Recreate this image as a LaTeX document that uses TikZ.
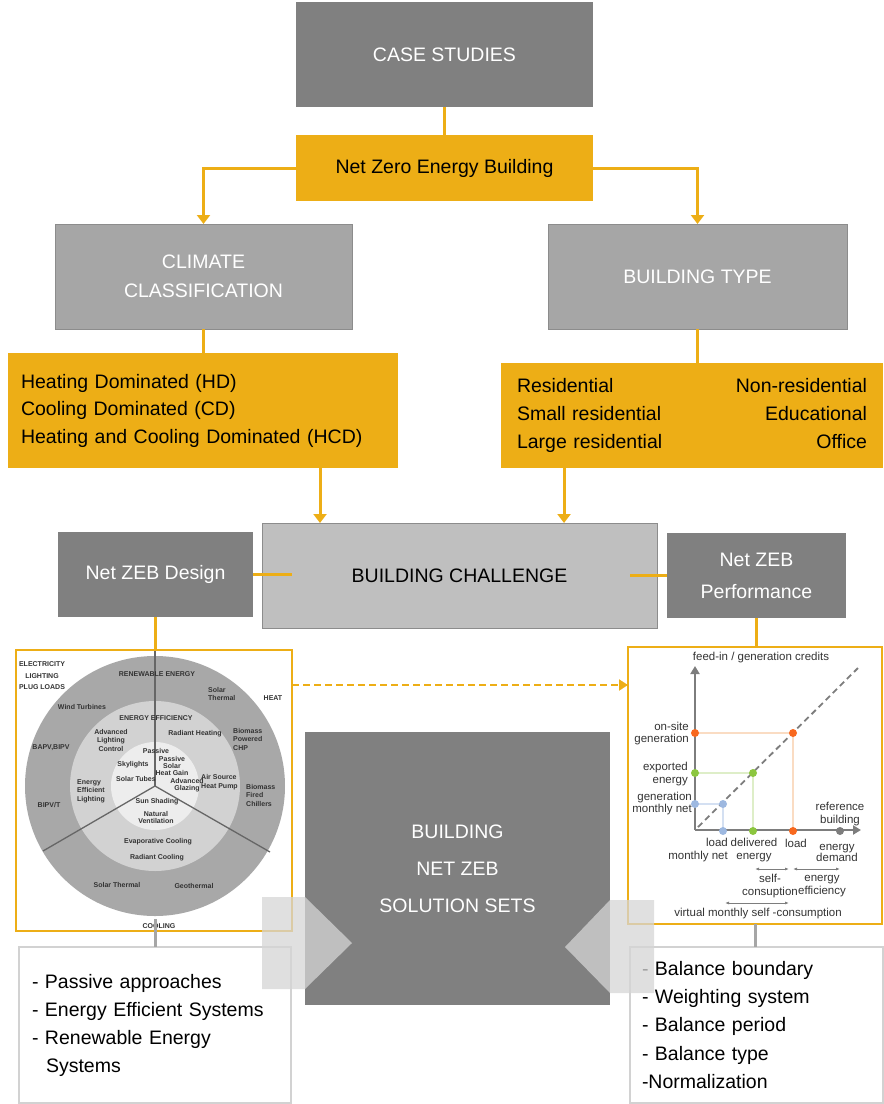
\documentclass[tikz,border=0pt]{standalone}
\usepackage{fontspec}
\setmainfont{Liberation Sans}
\usetikzlibrary{arrows.meta,calc}
\definecolor{zy}{RGB}{237,174,22}
\definecolor{dg}{RGB}{128,128,128}
\definecolor{mg}{RGB}{166,166,166}
\definecolor{lg}{RGB}{191,191,191}
\definecolor{bd}{RGB}{140,140,140}
\definecolor{ringA}{RGB}{168,168,168}
\definecolor{ringB}{RGB}{210,210,210}
\definecolor{ringC}{RGB}{237,237,237}
\definecolor{po}{RGB}{248,104,30}
\definecolor{pg}{RGB}{140,198,63}
\definecolor{pb}{RGB}{157,184,224}
\definecolor{lpo}{RGB}{250,220,195}
\definecolor{lpg}{RGB}{222,238,200}
\definecolor{lpb}{RGB}{212,224,242}
\definecolor{ax}{RGB}{125,125,125}
\definecolor{tgray}{RGB}{51,51,51}
\definecolor{arrfill}{RGB}{213,213,213}
\newcommand\bigtxt{\fontsize{19.5}{28}\selectfont}
\newcommand\charttxt{\fontsize{11.5}{12.5}\selectfont}
\newcommand\circtxt{\fontsize{7}{8.5}\selectfont\bfseries}
\begin{document}
\begin{tikzpicture}[x=1pt,y=-1pt,
  box/.style={inner sep=0pt, outer sep=0pt, align=center, font=\bigtxt},
  dbox/.style={box, fill=dg, text=white},
  mbox/.style={box, fill=mg, draw=bd, line width=1pt, text=white},
  cbox/.style={box, fill=lg, draw=bd, line width=1pt, text=black},
  ybox/.style={box, fill=zy, text=black},
  wbox/.style={box, draw=ringB, line width=1.5pt, fill=white, text=black},
  frame/.style={draw=zy, line width=1.8pt, inner sep=0pt, outer sep=0pt},
  yline/.style={draw=zy, line width=3pt},
  yarrow/.style={yline, -{Triangle[width=13pt,length=9pt]}},
  gline/.style={draw=black!35, line width=3pt},
  ctext/.style={font=\circtxt, inner sep=0pt, text=black!80},
  chtext/.style={font=\charttxt, inner sep=0pt, text=tgray},
  dot/.style={circle, inner sep=0pt, minimum size=8pt},
  dbl/.style={draw=ax, line width=0.8pt, {Latex[length=4pt,width=3pt]}-{Latex[length=4pt,width=3pt]}}
]
\useasboundingbox (0,0) rectangle (884,1104);

% ---- main boxes ----
\node[dbox, minimum width=297pt, minimum height=105pt] (cs) at (444.5,54.5) {CASE STUDIES};
\node[ybox, minimum width=297pt, minimum height=66pt] (nz) at (444.5,168) {Net Zero Energy Building};
\node[mbox, minimum width=297pt, minimum height=105pt, font=\fontsize{19.5}{29}\selectfont] (cl) at (203.5,276.5) {CLIMATE\\CLASSIFICATION};
\node[mbox, minimum width=299pt, minimum height=105pt] (bt) at (697.5,276.5) {BUILDING TYPE};
\node[ybox, minimum width=390pt, minimum height=115pt, text width=364pt, align=left, font=\fontsize{19.5}{27.5}\selectfont] (ly) at (203,410.5)
  {Heating Dominated (HD)\\Cooling Dominated (CD)\\Heating and Cooling Dominated (HCD)};
\node[ybox, minimum width=382pt, minimum height=105pt, text width=350pt, align=left] (ry) at (692,415.5)
  {\makebox[350pt][s]{Residential\hfill Non-residential}\\\makebox[350pt][s]{Small residential\hfill Educational}\\\makebox[350pt][s]{Large residential\hfill Office}};
\node[cbox, minimum width=395pt, minimum height=105pt] (ch) at (459.5,575.5) {BUILDING CHALLENGE};
\node[dbox, minimum width=195pt, minimum height=85pt] (de) at (155.5,574.5) {Net ZEB Design};
\node[dbox, minimum width=179pt, minimum height=85pt, font=\fontsize{19.5}{32}\selectfont] (pe) at (756.5,575.5) {Net ZEB\\Performance};
\node[dbox, minimum width=305pt, minimum height=273pt, font=\fontsize{19.5}{37}\selectfont] (so) at (457.5,868.5) {BUILDING\\NET ZEB\\SOLUTION SETS};

% ---- frames ----
\node[frame, minimum width=276pt, minimum height=281pt] (lf) at (154,790.5) {};
\node[frame, minimum width=254pt, minimum height=277pt] (rf) at (755,785.5) {};

% ---- bottom text boxes ----
\node[wbox, minimum width=272pt, minimum height=156pt, text width=246pt, align=left] (lb) at (155,1025)
  {- Passive approaches\\- Energy Efficient Systems\\- Renewable Energy\\\hspace*{14pt}Systems};
\node[wbox, minimum width=253pt, minimum height=156pt, text width=229pt, align=left, font=\fontsize{19.5}{28.25}\selectfont] (rb) at (756.5,1025)
  {- Balance boundary\\- Weighting system\\- Balance period\\- Balance type\\-Normalization};

% ---- circle diagram ----
\coordinate (cc) at (155,786);
\fill[ringA] (cc) circle[radius=130pt];
\fill[ringB] (cc) circle[radius=85pt];
\fill[ringC] (cc) circle[radius=44pt];
\draw[black!60, line width=1.3pt] (cc) -- (155,651);
\draw[black!60, line width=1.3pt] (cc) -- (43,851);
\draw[black!60, line width=1.3pt] (cc) -- (270,852);
\node[ctext, align=center, font=\fontsize{7}{11.5}\selectfont\bfseries] (t1) at (42,676) {ELECTRICITY\\LIGHTING\\PLUG LOADS};
\node[ctext] (t2) at (157,674) {RENEWABLE ENERGY};
\node[ctext, align=left, anchor=west] (t3) at (208,694) {Solar\\Thermal};
\node[ctext] (t4) at (273,698) {HEAT};
\node[ctext] (t5) at (82,707) {Wind Turbines};
\node[ctext] (t6) at (156,718) {ENERGY EFFICIENCY};
\node[ctext, align=center] (t7) at (111,740) {Advanced\\Lighting\\Control};
\node[ctext] (t8) at (195,734) {Radiant Heating};
\node[ctext, align=left, anchor=west] (t9) at (233,739) {Biomass\\Powered\\CHP};
\node[ctext] (t10) at (51,748) {BAPV,BIPV};
\node[ctext] (t11) at (156,751) {Passive};
\node[ctext, align=center, font=\fontsize{7}{7}\selectfont\bfseries] (t12) at (172,766) {Passive\\Solar\\Heat Gain};
\node[ctext] (t13) at (133,765) {Skylights};
\node[ctext] (t14) at (136,779) {Solar Tubes};
\node[ctext, align=center, font=\fontsize{7}{7}\selectfont\bfseries] (t15) at (187,785) {Advanced\\Glazing};
\node[ctext, align=left, anchor=west] (t16) at (201,782) {Air Source\\Heat Pump};
\node[ctext, align=left, anchor=west] (t17) at (246,795) {Biomass\\Fired\\Chillers};
\node[ctext, align=left, anchor=west] (t18) at (77,791) {Energy\\Efficient\\Lighting};
\node[ctext] (t19) at (49,805) {BIPV/T};
\node[ctext] (t20) at (157,802) {Sun Shading};
\node[ctext, align=center, font=\fontsize{7}{7}\selectfont\bfseries] (t21) at (156,817) {Natural\\Ventilation};
\node[ctext] (t22) at (158,842) {Evaporative Cooling};
\node[ctext] (t23) at (157,858) {Radiant Cooling};
\node[ctext] (t24) at (117,885) {Solar Thermal};
\node[ctext] (t25) at (194,886) {Geothermal};
\node[ctext] (t26) at (159,926) {COOLING};

% ---- chart ----
\coordinate (o) at (695,830);
\coordinate (ytip) at (695,666);
\coordinate (xtip) at (861,830);
\draw[lpo, line width=1.5pt] (695,733) -- (793,733) -- (793,830);
\draw[lpg, line width=1.5pt] (695,773) -- (753,773) -- (753,830);
\draw[lpb, line width=1.5pt] (695,804) -- (723,804) -- (723,830);
\draw[ax, line width=1.8pt, dash pattern=on 6pt off 4pt] (698,827) -- (858,668);
\draw[ax, line width=2.5pt, -{Triangle[width=9pt,length=8pt]}] (o) -- (ytip);
\draw[ax, line width=2.5pt, -{Triangle[width=9pt,length=8pt]}] (o) -- (xtip);
\node[dot, fill=po] (p1) at (695,733) {};
\node[dot, fill=po] (p2) at (793,733) {};
\node[dot, fill=po] (p3) at (793,831) {};
\node[dot, fill=pg] (p4) at (695,773) {};
\node[dot, fill=pg] (p5) at (753,773) {};
\node[dot, fill=pg] (p6) at (753,831) {};
\node[dot, fill=pb] (p7) at (695,804) {};
\node[dot, fill=pb] (p8) at (723,804) {};
\node[dot, fill=pb] (p9) at (723,831) {};
\node[dot, fill=ax] (p10) at (840,831) {};
\node[chtext] (l1) at (761,658) {feed-in / generation credits};
\node[chtext, align=right, anchor=east] (l2) at (689,733.5) {on-site\\generation};
\node[chtext, align=right, anchor=east] (l3) at (688,774) {exported\\energy};
\node[chtext, align=right, anchor=east] (l4) at (692,803.5) {generation\\monthly net};
\node[chtext, align=center] (l5) at (840,814) {reference\\building};
\node[chtext, align=right, anchor=east] (l6) at (728,850) {load\\monthly net};
\node[chtext, align=center] (l7) at (754,850) {delivered\\energy};
\node[chtext] (l8) at (796,843) {load};
\node[chtext, align=center, font=\fontsize{11.5}{11}\selectfont] (l9) at (837,853) {energy\\demand};
\coordinate (a1) at (755,869);
\coordinate (a2) at (789,869);
\coordinate (a3) at (793,869);
\coordinate (a4) at (840,869);
\coordinate (a5) at (725,903);
\coordinate (a6) at (789,903);
\draw[dbl] (a1) -- (a2);
\draw[dbl] (a3) -- (a4);
\draw[dbl] (a5) -- (a6);
\node[chtext, align=center] (l10) at (770,886) {self-\\consuption};
\node[chtext, align=center] (l11) at (822,886) {energy\\efficiency};
\node[chtext] (l12) at (758,914) {virtual monthly self -consumption};

% ---- connectors ----
\draw[yline] (cs.south) -- (nz.north);
\draw[yarrow] (nz.west) -| (cl.north);
\draw[yarrow] (nz.east) -| (bt.north);
\draw[yline] (cl.south) -- (cl.south |- ly.north);
\draw[yline] (bt.south) -- (bt.south |- ry.north);
\coordinate (lyo) at ($(ly.south west)!0.8!(ly.south east)$);
\coordinate (ryo) at ($(ry.south west)!0.165!(ry.south east)$);
\draw[yarrow] (lyo) -- (lyo |- ch.north);
\draw[yarrow] (ryo) -- (ryo |- ch.north);
\draw[yline] (de.east) -- ($(de.east -| ch.west)+(30,0)$);
\draw[yline] (pe.west) -- ($(pe.west -| ch.east)+(-27,0)$);
\draw[yline] (de.south) -- (de.south |- lf.north);
\draw[yline] (pe.south) -- (pe.south |- rf.north);
\coordinate (dstart) at ($(lf.north east)+(0,35)$);
\draw[draw=zy, line width=2pt, dash pattern=on 7pt off 4pt, -{Triangle[width=11pt,length=9pt]}] (dstart) -- (dstart -| rf.west);
\coordinate (lfo) at ($(lf.south)+(1,-12)$);
\draw[gline] (lfo) -- (lfo |- lb.north);
\draw[gline] (rf.south) -- (rf.south |- rb.north);

% ---- translucent arrows ----
\fill[arrfill, opacity=0.75] (262,897) -- (305,897) -- (352,943) -- (305,989) -- (262,989) -- cycle;
\fill[arrfill, opacity=0.75] (654,900) -- (610,900) -- (565,947) -- (610,993) -- (654,993) -- cycle;
\end{tikzpicture}
\end{document}
